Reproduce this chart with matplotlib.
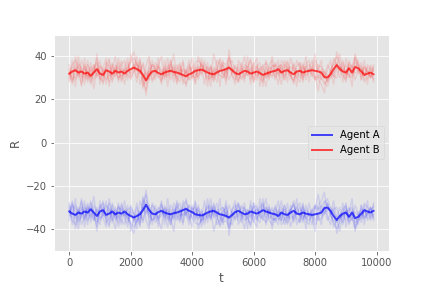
import numpy as np
import matplotlib
matplotlib.use("Agg")
import matplotlib.pyplot as plt

plt.style.use("ggplot")

step = 100

# mean reward of agent B, one value every 100 steps
mean_b = [31.9, 32.9, 33.5, 32.4, 32.9, 31.9, 32.4, 30.9, 32.4, 34.0,
          31.9, 31.3, 33.5, 32.9, 31.9, 33.2, 32.4, 32.9, 31.9, 33.2,
          34.0, 34.7, 34.0, 33.2, 31.3, 28.8, 31.3, 32.9, 33.2, 32.2,
          31.6, 32.4, 32.9, 33.2, 32.7, 32.4, 31.9, 31.3, 30.7, 31.6,
          32.2, 33.2, 33.5, 33.8, 33.2, 32.4, 31.9, 31.6, 32.4, 33.2,
          33.5, 34.0, 34.7, 33.5, 32.2, 31.6, 32.4, 33.2, 32.9, 31.9,
          32.4, 32.9, 32.2, 31.3, 31.9, 32.4, 32.9, 33.2, 34.0, 32.4,
          33.2, 33.5, 32.4, 31.6, 32.9, 33.2, 32.4, 32.9, 33.2, 33.5,
          33.2, 32.9, 32.4, 30.3, 30.1, 31.6, 34.0, 35.9, 34.0, 32.9,
          32.4, 34.4, 32.4, 35.0, 34.4, 32.9, 31.3, 31.9, 32.4, 31.6]

# individual runs of agent B (faint lines)
runs_b = [
    [30, 36, 38, 31, 35, 29, 34, 27, 33, 39, 30, 28, 37, 35, 29, 36, 33, 38, 30, 34,
     37, 39, 36, 35, 29, 24, 30, 36, 35, 31, 28, 35, 31, 36, 33, 30, 35, 29, 27, 33,
     35, 37, 38, 36, 33, 30, 29, 34, 31, 35, 37, 36, 39, 34, 30, 28, 33, 36, 35, 29,
     34, 36, 30, 28, 33, 31, 36, 35, 38, 30, 36, 34, 31, 28, 35, 37, 30, 35, 36, 33,
     38, 35, 30, 27, 29, 33, 37, 40, 36, 31, 29, 38, 33, 39, 36, 35, 28, 30, 35, 29],
    [34, 29, 31, 36, 30, 35, 28, 33, 36, 31, 35, 34, 29, 31, 37, 30, 35, 28, 34, 31,
     30, 33, 37, 32, 36, 27, 33, 29, 31, 35, 34, 30, 35, 29, 32, 36, 31, 34, 33, 29,
     31, 30, 35, 32, 36, 33, 35, 28, 34, 31, 30, 33, 36, 32, 35, 34, 29, 31, 33, 35,
     30, 29, 35, 34, 30, 33, 30, 34, 31, 36, 29, 33, 35, 34, 30, 28, 36, 31, 33, 35,
     29, 30, 34, 32, 28, 33, 31, 30, 35, 33, 36, 30, 35, 32, 34, 31, 35, 33, 30, 35],
    [33, 28, 35, 30, 38, 34, 30, 35, 29, 32, 36, 33, 27, 38, 31, 35, 29, 34, 33, 37,
     32, 36, 30, 38, 26, 30, 35, 31, 37, 34, 33, 31, 36, 33, 35, 28, 34, 33, 32, 36,
     29, 35, 31, 37, 33, 29, 35, 30, 38, 36, 32, 30, 35, 31, 29, 36, 33, 35, 31, 34,
     28, 35, 33, 36, 30, 35, 34, 30, 36, 33, 31, 35, 29, 37, 32, 34, 28, 35, 33, 31,
     29, 36, 35, 33, 31, 30, 32, 35, 30, 37, 31, 34, 36, 29, 33, 37, 31, 35, 30, 34],
    [31, 35, 29, 33, 27, 36, 31, 30, 34, 37, 29, 33, 35, 31, 33, 34, 30, 31, 33, 35,
     38, 42, 35, 32, 37, 31, 33, 36, 34, 30, 32, 34, 30, 38, 31, 33, 36, 30, 34, 29,
     35, 32, 30, 36, 33, 35, 30, 33, 28, 34, 36, 32, 40, 35, 31, 34, 30, 33, 35, 38,
     32, 31, 33, 29, 35, 30, 35, 36, 32, 33, 38, 35, 31, 29, 33, 30, 35, 33, 34, 32,
     30, 31, 29, 33, 28, 34, 36, 37, 35, 34, 33, 31, 30, 37, 35, 34, 32, 33, 31, 30],
    [29, 38, 33, 40, 31, 27, 36, 33, 25, 35, 38, 30, 33, 28, 36, 31, 39, 33, 27, 35,
     31, 37, 33, 39, 30, 33, 29, 38, 32, 36, 29, 33, 39, 31, 36, 27, 32, 38, 30, 35,
     33, 27, 36, 31, 38, 33, 26, 35, 33, 38, 30, 35, 29, 33, 36, 28, 34, 40, 31, 33,
     37, 30, 34, 26, 38, 33, 31, 37, 33, 27, 35, 38, 31, 36, 30, 33, 37, 29, 34, 38,
     31, 24, 33, 30, 36, 33, 27, 35, 41, 33, 28, 36, 31, 34, 38, 29, 35, 33, 30, 36],
    [36, 27, 40, 34, 26, 39, 29, 37, 31, 41, 27, 35, 39, 26, 34, 40, 28, 36, 38, 29,
     41, 35, 28, 37, 25, 36, 40, 28, 33, 39, 27, 38, 26, 35, 41, 30, 28, 37, 26, 34,
     39, 28, 40, 35, 27, 37, 30, 41, 36, 26, 38, 29, 43, 31, 27, 38, 35, 28, 40, 27,
     36, 39, 26, 35, 37, 29, 40, 33, 27, 38, 36, 28, 39, 34, 26, 37, 31, 40, 28, 35,
     41, 29, 27, 23, 34, 38, 30, 42, 37, 28, 39, 33, 26, 41, 36, 29, 38, 27, 36, 33],
    [28, 33, 26, 37, 34, 30, 38, 28, 36, 30, 34, 27, 36, 39, 28, 33, 37, 29, 35, 39,
     29, 33, 40, 27, 31, 22, 38, 34, 29, 36, 40, 29, 34, 38, 28, 34, 37, 27, 33, 38,
     30, 36, 29, 39, 34, 26, 36, 29, 34, 39, 35, 27, 37, 38, 33, 29, 37, 30, 34, 39,
     28, 35, 37, 31, 26, 36, 38, 29, 35, 36, 29, 37, 33, 27, 38, 35, 29, 36, 38, 31,
     36, 33, 38, 28, 26, 31, 39, 36, 33, 38, 30, 37, 35, 40, 32, 35, 29, 36, 34, 28],
]

# zero-sum game: agent A gets the opposite reward (the chart mirrors exactly)
mean_a = [-v for v in mean_b]
runs_a = [[-v for v in run] for run in runs_b]

fig, ax = plt.subplots(figsize=(6, 4), dpi=72)
fig.subplots_adjust(bottom=0.13)

for run in runs_a:
    ax.plot(np.arange(len(run)) * step, run, color="blue", alpha=0.1, lw=1.5)
for run in runs_b:
    ax.plot(np.arange(len(run)) * step, run, color="red", alpha=0.1, lw=1.5)

ax.plot(np.arange(len(mean_a)) * step, mean_a, color="blue", alpha=0.7, lw=2, label="Agent A")
ax.plot(np.arange(len(mean_b)) * step, mean_b, color="red", alpha=0.7, lw=2, label="Agent B")

ax.set_ylim(-50, 50)
ax.set_xlabel("t")
ax.set_ylabel("R")
ax.legend(loc="center right")

fig.savefig("out.png")
